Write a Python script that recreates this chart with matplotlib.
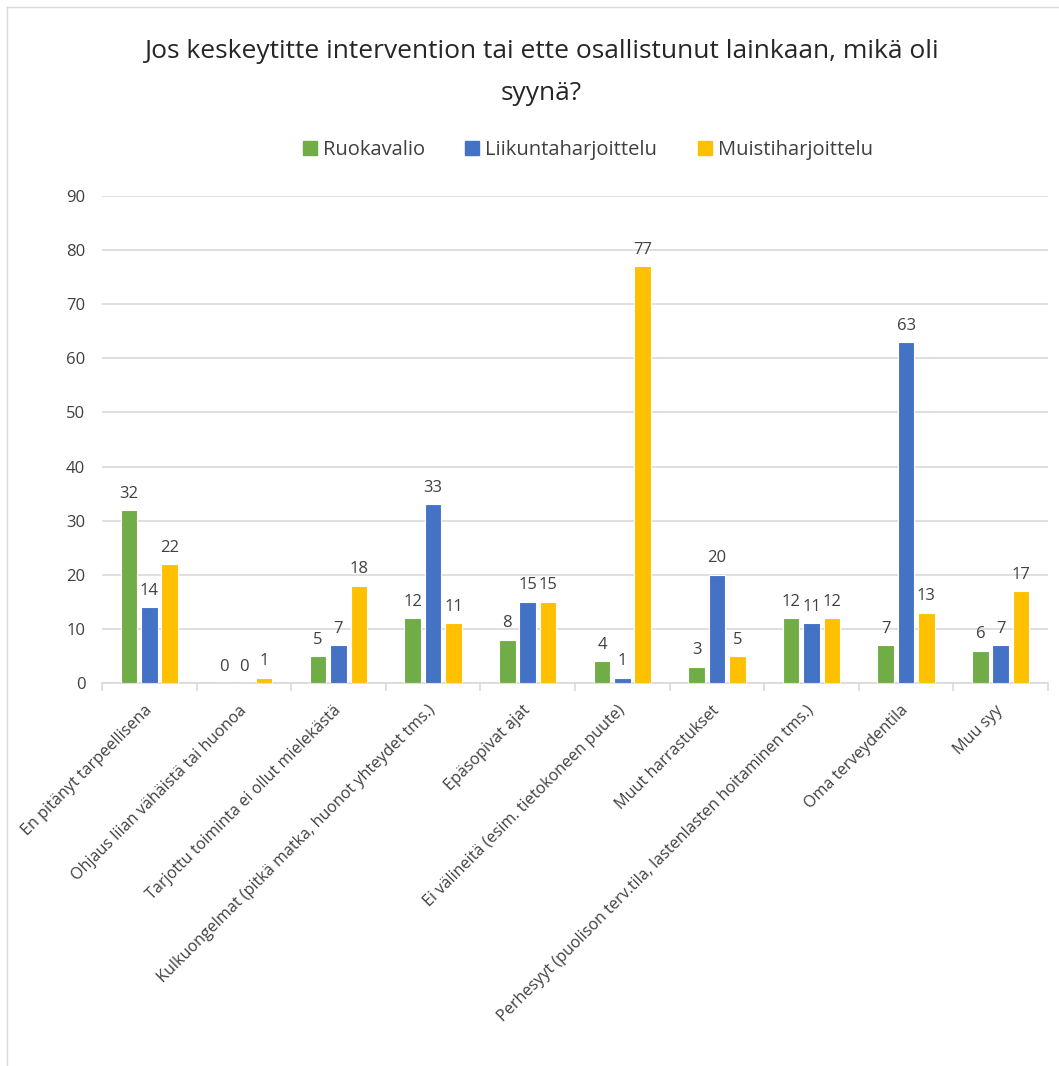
import numpy as np
import matplotlib.pyplot as plt
from matplotlib.patches import Rectangle
from matplotlib.lines import Line2D

plt.rcParams['font.family'] = ['Open Sans', 'DejaVu Sans']

# Data
categories = [
    'En pitänyt tarpeellisena',
    'Ohjaus liian vähäistä tai huonoa',
    'Tarjottu toiminta ei ollut mielekästä',
    'Kulkuongelmat (pitkä matka, huonot yhteydet tms.)',
    'Epäsopivat ajat',
    'Ei välineitä (esim. tietokoneen puute)',
    'Muut harrastukset',
    'Perhesyyt (puolison terv.tila, lastenlasten hoitaminen tms.)',
    'Oma terveydentila',
    'Muu syy',
]
series_names = ['Ruokavalio', 'Liikuntaharjoittelu', 'Muistiharjoittelu']
ruokavalio = [32, 0, 5, 12, 8, 4, 3, 12, 7, 6]
liikunta = [14, 0, 7, 33, 15, 1, 20, 11, 63, 7]
muisti = [22, 1, 18, 11, 15, 77, 5, 12, 13, 17]
colors = ['#70AD47', '#4472C4', '#FFC000']

fig = plt.figure(figsize=(10.59, 10.66), dpi=100)
ax = fig.add_axes([0.0963, 0.3593, 0.8933, 0.4568])

x = np.arange(len(categories))
width = 0.175
step = 0.215
text_color = '#404040'

for i, (vals, name, c) in enumerate(zip([ruokavalio, liikunta, muisti], series_names, colors)):
    pos = x + (i - 1) * step
    bars = ax.bar(pos, vals, width, color=c, edgecolor='white', linewidth=0.8, label=name, zorder=3)
    for b, v in zip(bars, vals):
        ax.annotate(str(v), (b.get_x() + b.get_width() / 2, v), xytext=(0, 6),
                    textcoords='offset points', ha='center', va='bottom',
                    fontsize=12, color=text_color)

ax.set_xlim(-0.5, len(categories) - 0.5)
ax.set_ylim(0, 90)
ax.set_yticks(range(0, 91, 10))
ax.yaxis.grid(True, color='#D9D9D9', linewidth=1.2, zorder=0)
ax.tick_params(axis='y', length=0, labelsize=12, labelcolor=text_color, pad=12)

for s in ['top', 'right', 'left']:
    ax.spines[s].set_visible(False)
ax.spines['bottom'].set_color('#D9D9D9')
ax.spines['bottom'].set_linewidth(1.2)

# category labels at centers, tick marks at boundaries
ax.set_xticks(x)
ax.set_xticklabels(categories, rotation=45, ha='right', va='center',
                   rotation_mode='anchor', fontsize=11.6, color=text_color)
ax.tick_params(axis='x', which='major', length=0, pad=18)
ax.set_xticks(np.arange(-0.5, len(categories)), minor=True)
ax.tick_params(axis='x', which='minor', length=6, color='#D9D9D9', width=1.2)

# title and legend
fig.text(0.511, 0.952, 'Jos keskeytitte intervention tai ette osallistunut lainkaan, mikä oli',
         ha='center', va='center', fontsize=19, color='#262626')
fig.text(0.511, 0.912, 'syynä?', ha='center', va='center', fontsize=19, color='#262626')

handles = [Rectangle((0, 0), 1, 1, color=c) for c in colors]
fig.legend(handles, series_names, loc='center', bbox_to_anchor=(0.555, 0.859), ncol=3,
           frameon=False, fontsize=14.5, handlelength=0.7, handleheight=0.7,
           handletextpad=0.3, columnspacing=2.0, labelcolor=text_color)

# chart border
fig.add_artist(Line2D([0.007, 0.007], [0, 0.993], color='#D9D9D9', linewidth=1, transform=fig.transFigure))
fig.add_artist(Line2D([0.007, 1], [0.993, 0.993], color='#D9D9D9', linewidth=1, transform=fig.transFigure))

plt.savefig('out.png', dpi=100)
